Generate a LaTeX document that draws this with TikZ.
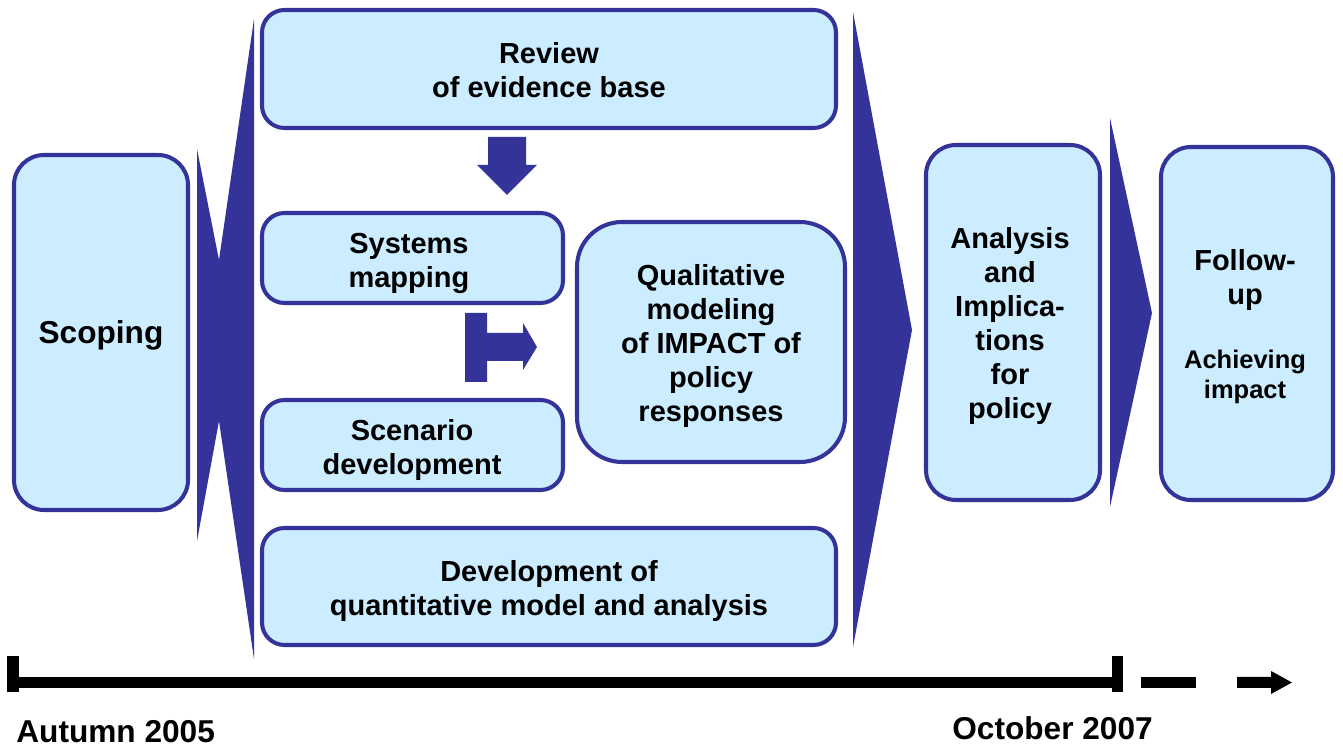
\documentclass[tikz,border=0pt]{standalone}
\usepackage{fontspec}
\setmainfont{Liberation Sans}
\usepackage{xcolor}
\usepackage{tikz}
\usetikzlibrary{positioning}

\definecolor{stagefill}{HTML}{CCECFF}
\definecolor{stageline}{HTML}{333399}

\tikzset{
  stage/.style={draw=stageline, fill=stagefill, line width=2.3pt, rounded corners=0.45cm},
  stagetext/.style={font=\bfseries\fontsize{16.5}{19.4}\selectfont, align=center, inner sep=0pt},
  smalltext/.style={font=\bfseries\fontsize{14.5}{17}\selectfont, align=center, inner sep=0pt},
  datetext/.style={font=\bfseries\fontsize{18}{20}\selectfont, inner sep=0pt},
  chevron/.style={fill=stageline},
}

\begin{document}
\begin{tikzpicture}[x=0.02cm, y=-0.02cm]
  \useasboundingbox (0,0) rectangle (1343,749);

  % stage boxes
  \draw[stage, rounded corners=0.6cm] (14,155) rectangle (188,510);
  \draw[stage] (262,10) rectangle (836,128);
  \draw[stage] (262,213) rectangle (563,303);
  \draw[stage] (262,400) rectangle (563,490);
  \draw[stage, rounded corners=0.9cm] (577,222) rectangle (845,462);
  \draw[stage] (262,528) rectangle (836,645);
  \draw[stage, rounded corners=0.6cm] (926,145) rectangle (1100,500);
  \draw[stage, rounded corners=0.6cm] (1161,147) rectangle (1333,500);

  \node[stagetext, font=\bfseries\fontsize{18}{20}\selectfont] (scoping) at (101,335) {Scoping};
  \node[stagetext] (review) at (549,70) {Review\\of evidence base};
  \node[stagetext] (systems) at (409,263) {Systems\\mapping};
  \node[stagetext] (scenario) at (412,450) {Scenario\\development};
  \node[stagetext] (qualitative) at (711,346) {Qualitative\\modeling\\of IMPACT of\\policy\\responses};
  \node[stagetext] (quantitative) at (549,591) {Development of\\quantitative model and analysis};
  \node[stagetext] (analysis) at (1010,326) {Analysis\\and\\Implica-\\tions\\for\\policy};
  \node[stagetext] (followup) at (1245,280) {Follow-\\up};
  \node[smalltext] (achieving) at (1245,377) {Achieving\\impact};

  % big chevrons between phases
  \fill[chevron] (197,149) -- (219,260) -- (254,19) -- (254,659) -- (219,421) -- (197,541) -- cycle;
  \fill[chevron] (853,12) -- (912,330) -- (853,647) -- cycle;
  \fill[chevron] (1110,118) -- (1152,313) -- (1110,507) -- cycle;

  % block arrows inside the middle phase
  \fill[chevron] (488,137) -- (526,137) -- (526,165) -- (537,165) -- (507,195) -- (477,165) -- (488,165) -- cycle;
  \fill[chevron] (465,313) -- (487,313) -- (487,333) -- (523,333) -- (523,323) -- (537,347)
    -- (523,370) -- (523,361) -- (487,361) -- (487,382) -- (465,382) -- cycle;

  % timeline
  \fill (7,656) rectangle (19,692);
  \fill (19,677) rectangle (1112,688);
  \fill (1112,656) rectangle (1123,692);
  \fill (1141,677) rectangle (1196,688);
  \fill (1237,677) -- (1271,677) -- (1271,671) -- (1292,682.5) -- (1271,694) -- (1271,688) -- (1237,688) -- cycle;

  \node[datetext, anchor=base west] (start) at (16,743) {Autumn 2005};
  \node[datetext, anchor=base west] (finish) at (952,740) {October 2007};
\end{tikzpicture}
\end{document}
